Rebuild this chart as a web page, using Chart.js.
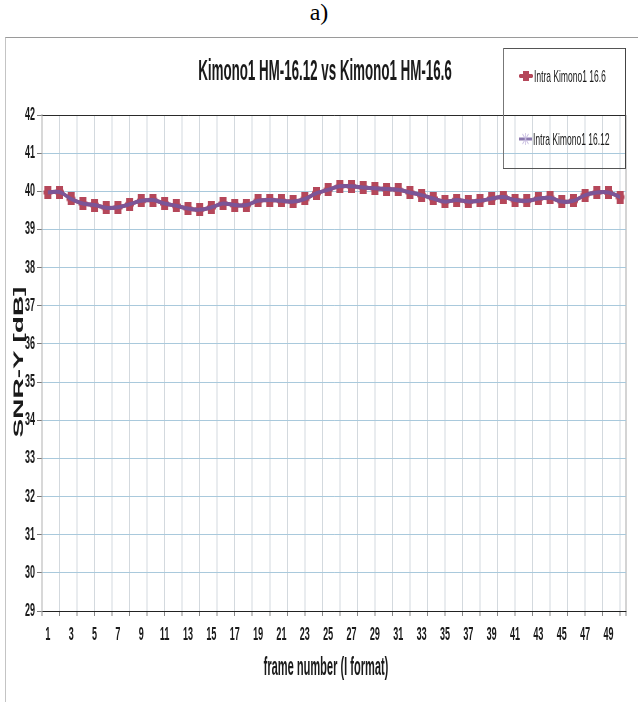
<!DOCTYPE html>
<html><head><meta charset="utf-8">
<script src="https://cdn.jsdelivr.net/npm/chart.js@4.4.1/dist/chart.umd.min.js"></script>
<style>
html,body{margin:0;padding:0;background:#fff;width:638px;height:702px;overflow:hidden}
#cap{position:absolute;left:0;top:-2px;width:638px;text-align:center;font:24px "Liberation Serif","Times New Roman",serif;line-height:28px;color:#000}
#frame{position:absolute;left:5px;top:37px;width:633px;height:665px;border-top:1px solid #9a9a9a;border-left:1px solid #c4c4c4;overflow:hidden}
#c{position:absolute;left:0;top:0;width:1264px;height:664px;transform:scaleX(0.5);transform-origin:0 0}
</style></head>
<body>
<div id="cap">a)</div>
<div id="frame"><canvas id="c" width="1264" height="664"></canvas></div>
<script>
// ---- data ----
const frames = [1,2,3,4,5,6,7,8,9,10,11,12,13,14,15,16,17,18,19,20,21,22,23,24,25,26,27,28,29,30,31,32,33,34,35,36,37,38,39,40,41,42,43,44,45,46,47,48,49,50];
const snr_16_6  = [39.97,39.98,39.80,39.68,39.64,39.57,39.58,39.66,39.75,39.77,39.68,39.62,39.55,39.52,39.58,39.68,39.64,39.64,39.75,39.77,39.75,39.73,39.80,39.95,40.04,40.13,40.13,40.10,40.08,40.06,40.04,39.97,39.90,39.81,39.73,39.77,39.73,39.75,39.81,39.85,39.77,39.75,39.81,39.83,39.73,39.75,39.90,39.97,39.97,39.85];
const snr_16_12 = [39.97,39.98,39.80,39.68,39.64,39.57,39.58,39.66,39.75,39.77,39.68,39.62,39.55,39.52,39.58,39.68,39.64,39.64,39.75,39.77,39.75,39.73,39.80,39.95,40.04,40.13,40.13,40.10,40.08,40.06,40.04,39.97,39.90,39.81,39.73,39.77,39.73,39.75,39.81,39.85,39.77,39.75,39.81,39.83,39.73,39.75,39.90,39.97,39.97,39.85];
const seriesNames = ['Intra Kimono1 16.6','Intra Kimono1 16.12'];
const xTickLabels = [1,3,5,7,9,11,13,15,17,19,21,23,25,27,29,31,33,35,37,39,41,43,45,47,49];
const xGridTicks = [0.5,2,3.5,5,6.5,8,9.5,11,12.5,14,15.5,17,18.5,20,21.5,23,24.5,26,27.5,29,30.5,32,33.5,35,36.5,38,39.5,41,42.5,44,45.5,47,48.5,50,50.5];
const yTicks = [29,30,31,32,33,34,35,36,37,38,39,40,41,42];
const chartTitle = 'Kimono1 HM-16.12 vs Kimono1 HM-16.6';
const xTitle = 'frame number (I format)';
const yTitle = 'SNR-Y [dB]';

const RED = '#b5475a';
const PURPLE = '#7b5597';
const FONT = '"Liberation Sans", Arial, sans-serif';

function plusMarker(w, h, vw, ht, color) {
  const c = document.createElement('canvas');
  c.width = w; c.height = h;
  const g = c.getContext('2d');
  g.fillStyle = color;
  g.fillRect((w - vw) / 2, 0, vw, h);
  g.fillRect(0, (h - ht) / 2, w, ht);
  return c;
}
const redPlus = plusMarker(18, 13, 14, 4, RED);

const decor = {
  id: 'decor',
  afterDraw(chart) {
    const ctx = chart.ctx;
    ctx.save();
    ctx.fillStyle = '#1a1a1a';
    ctx.textAlign = 'center';
    ctx.textBaseline = 'middle';
    ctx.save();
    ctx.translate(638, 34);
    ctx.scale(0.92, 1);
    ctx.font = 'bold 29px ' + FONT;
    ctx.fillText(chartTitle, 0, 0);
    ctx.restore();
    ctx.save();
    ctx.translate(640, 630);
    ctx.scale(0.85, 1);
    ctx.font = 'bold 26px ' + FONT;
    ctx.fillText(xTitle, 0, 0);
    ctx.restore();
    ctx.save();
    ctx.translate(26, 324);
    ctx.rotate(-Math.PI / 2);
    ctx.font = 'bold 28px ' + FONT;
    ctx.fillText(yTitle, 0, 0);
    ctx.restore();

    // legend box (transparent)
    const L = 994, R = 1240, T = 10, B = 130;
    ctx.strokeStyle = '#555';
    ctx.lineWidth = 1;
    ctx.beginPath(); ctx.moveTo(L, T + 0.5); ctx.lineTo(R, T + 0.5); ctx.stroke();
    ctx.beginPath(); ctx.moveTo(L, B + 0.5); ctx.lineTo(R, B + 0.5); ctx.stroke();
    ctx.lineWidth = 2;
    ctx.strokeStyle = '#777';
    ctx.beginPath(); ctx.moveTo(L + 1, T); ctx.lineTo(L + 1, B); ctx.stroke();
    ctx.strokeStyle = '#444';
    ctx.beginPath(); ctx.moveTo(R - 1, T); ctx.lineTo(R - 1, B); ctx.stroke();

    const ds = chart.data.datasets;
    ctx.font = '17px ' + FONT;
    ctx.textAlign = 'left';
    // item 1
    let y = 38;
    ctx.strokeStyle = ds[0].borderColor; ctx.lineWidth = 3;
    ctx.beginPath(); ctx.moveTo(1026, y); ctx.lineTo(1054, y); ctx.stroke();
    ctx.fillStyle = ds[0].borderColor;
    ctx.fillRect(1034, y - 5, 12, 10);
    ctx.fillRect(1028, y - 2, 24, 4);
    ctx.fillStyle = '#1a1a1a';
    ctx.fillText(ds[0].label, 1056, y + 1);
    // item 2
    y = 101;
    ctx.strokeStyle = '#8c7ab0'; ctx.lineWidth = 3;
    ctx.beginPath(); ctx.moveTo(1026, y); ctx.lineTo(1052, y); ctx.stroke();
    ctx.strokeStyle = '#c8bde0'; ctx.lineWidth = 1.5;
    ctx.beginPath();
    ctx.moveTo(1039, y - 6); ctx.lineTo(1039, y + 6);
    ctx.moveTo(1033, y - 5); ctx.lineTo(1045, y + 5);
    ctx.moveTo(1033, y + 5); ctx.lineTo(1045, y - 5);
    ctx.stroke();
    ctx.fillStyle = '#1a1a1a';
    ctx.fillText(ds[1].label, 1054, y + 1);
    ctx.restore();
  }
};

new Chart(document.getElementById('c'), {
  type: 'line',
  data: {
    datasets: [
      {
        label: seriesNames[0],
        data: frames.map((f, i) => ({ x: f, y: snr_16_6[i] })),
        borderColor: RED,
        backgroundColor: RED,
        borderWidth: 4,
        pointStyle: redPlus,
        pointRadius: 7,
        tension: 0.35,
        order: 1
      },
      {
        label: seriesNames[1],
        data: frames.map((f, i) => ({ x: f, y: snr_16_12[i] })),
        borderColor: PURPLE,
        backgroundColor: PURPLE,
        borderWidth: 4,
        pointRadius: 0,
        tension: 0.35,
        order: 0
      }
    ]
  },
  options: {
    responsive: false,
    animation: false,
    devicePixelRatio: 1,
    layout: { padding: { top: 77, right: 24, bottom: 55, left: 0 } },
    plugins: { legend: { display: false }, title: { display: false }, tooltip: { enabled: false } },
    scales: {
      xg: {
        type: 'linear', position: 'bottom', weight: 0,
        min: 0.5, max: 50.5,
        afterBuildTicks: s => { s.ticks = xGridTicks.map(v => ({ value: v })); },
        afterFit: s => { s.height = 6; },
        ticks: { display: false },
        grid: {
          color: c => (c.tick && c.tick.value === 0.5) ? '#b0b0b0' : (c.tick && c.tick.value === 50.5 ? '#a8a8a8' : '#d3d9de'),
          tickColor: '#888',
          lineWidth: 2,
          tickLength: 5
        },
        border: { color: '#222', width: 1 }
      },
      x: {
        type: 'linear', position: 'bottom', weight: 1,
        min: 0.5, max: 50.5,
        afterBuildTicks: s => { s.ticks = xTickLabels.map(v => ({ value: v })); },
        afterFit: s => { s.height = 30; },
        ticks: { color: '#1a1a1a', font: { family: FONT, size: 18, weight: 'bold' }, padding: 7, maxRotation: 0, autoSkip: false },
        grid: { display: false, drawTicks: false },
        border: { display: false }
      },
      y: {
        type: 'linear', min: 29, max: 42,
        afterBuildTicks: s => { s.ticks = yTicks.map(v => ({ value: v })); },
        afterFit: s => { s.width = 72; },
        ticks: { color: '#1a1a1a', font: { family: FONT, size: 18, weight: 'bold' }, padding: 4 },
        grid: {
          color: c => (c.tick && (c.tick.value === 42 || c.tick.value === 29)) ? '#2a2a2a' : '#a9c9dc',
          tickColor: '#777',
          lineWidth: 1,
          tickLength: 10
        },
        border: { color: '#b0b0b0', width: 2 }
      }
    }
  },
  plugins: [decor]
});
</script>
</body></html>
